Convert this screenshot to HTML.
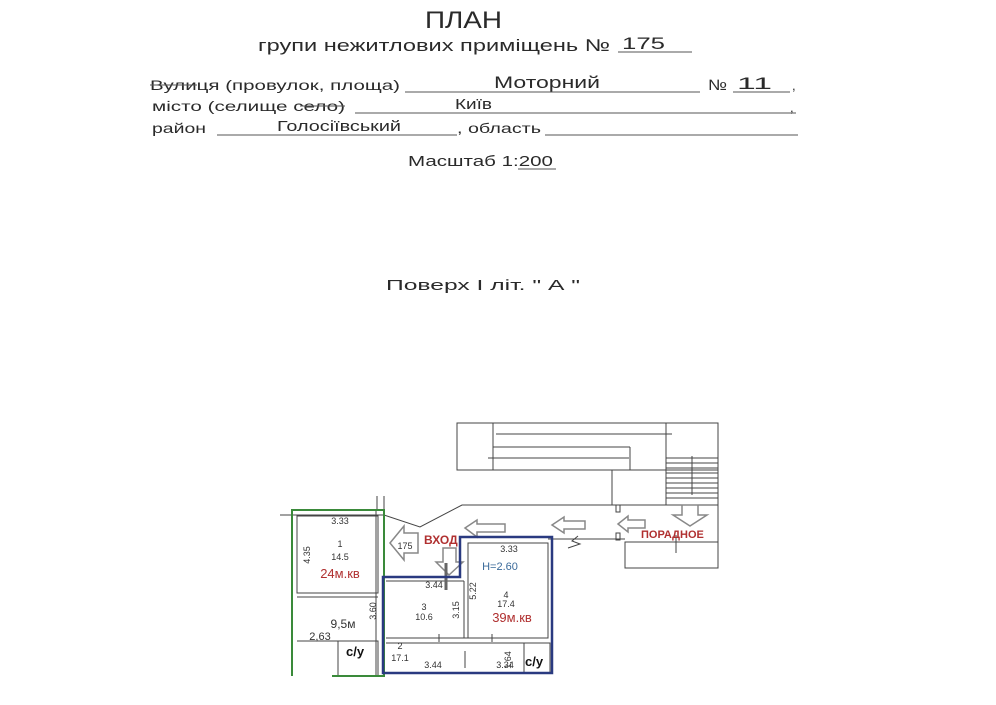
<!DOCTYPE html>
<html><head><meta charset="utf-8"><style>
html,body{margin:0;padding:0;background:#fff;}
body{width:996px;height:700px;overflow:hidden;}
svg text{font-family:"Liberation Sans",sans-serif;}
</style></head><body>
<svg width="996" height="700" viewBox="0 0 996 700" xmlns="http://www.w3.org/2000/svg">
<g fill="#2a2a2a">
<text x="425" y="28" font-size="24" textLength="77" lengthAdjust="spacingAndGlyphs">ПЛАН</text>
<text x="258" y="51" font-size="17" textLength="352" lengthAdjust="spacingAndGlyphs">групи нежитлових приміщень  №</text>
<text x="622" y="49" font-size="17" textLength="43" lengthAdjust="spacingAndGlyphs">175</text>
<text x="150" y="90" font-size="14" textLength="250" lengthAdjust="spacingAndGlyphs">Вулиця (провулок, площа)</text>
<text x="494" y="88" font-size="17" textLength="106" lengthAdjust="spacingAndGlyphs">Моторний</text>
<text x="708" y="90" font-size="15" textLength="19" lengthAdjust="spacingAndGlyphs">№</text>
<text x="737" y="89" font-size="17" textLength="35" lengthAdjust="spacingAndGlyphs">11</text>
<text x="792" y="90" font-size="13">,</text>
<text x="152" y="111" font-size="14" textLength="193" lengthAdjust="spacingAndGlyphs">місто (селище село)</text>
<text x="455" y="109" font-size="15" textLength="37" lengthAdjust="spacingAndGlyphs">Київ</text>
<text x="790" y="112" font-size="13">,</text>
<text x="152" y="133" font-size="14" textLength="54" lengthAdjust="spacingAndGlyphs">район</text>
<text x="277" y="131" font-size="15" textLength="124" lengthAdjust="spacingAndGlyphs">Голосіївський</text>
<text x="457" y="133" font-size="14" textLength="84" lengthAdjust="spacingAndGlyphs">, область</text>
<text x="408" y="166" font-size="15" textLength="145" lengthAdjust="spacingAndGlyphs">Масштаб 1:200</text>
<text x="386" y="290" font-size="15" textLength="194" lengthAdjust="spacingAndGlyphs">Поверх  І  літ. " А "</text>
</g>
<g stroke="#555" stroke-width="1">
<line x1="618" y1="52" x2="692" y2="52"/>
<line x1="150" y1="85" x2="197" y2="85"/>
<line x1="300" y1="106" x2="345" y2="106"/>
<line x1="405" y1="92" x2="700" y2="92"/>
<line x1="733" y1="92" x2="790" y2="92"/>
<line x1="355" y1="113" x2="796" y2="113"/>
<line x1="217" y1="135" x2="457" y2="135"/>
<line x1="545" y1="135" x2="798" y2="135"/>
<line x1="518" y1="169" x2="556" y2="169"/>
</g>
<g stroke="#444" stroke-width="1" fill="none">
<rect x="457" y="423" width="261" height="47"/>
<line x1="493" y1="423" x2="493" y2="470"/>
<line x1="666" y1="423" x2="666" y2="505"/>
<line x1="718" y1="470" x2="718" y2="505"/>
<line x1="493" y1="447" x2="630" y2="447"/>
<line x1="630" y1="447" x2="630" y2="470"/>
<line x1="496" y1="434" x2="672" y2="434"/>
<line x1="488" y1="458" x2="629" y2="458"/>
<line x1="612" y1="470" x2="612" y2="505"/>
<line x1="666" y1="458" x2="718" y2="458"/>
<line x1="666" y1="463" x2="718" y2="463"/>
<line x1="666" y1="468" x2="718" y2="468"/>
<line x1="666" y1="473" x2="718" y2="473"/>
<line x1="666" y1="478" x2="718" y2="478"/>
<line x1="666" y1="483" x2="718" y2="483"/>
<line x1="666" y1="488" x2="718" y2="488"/>
<line x1="666" y1="493" x2="718" y2="493"/>
<line x1="666" y1="498" x2="718" y2="498"/>
<line x1="692" y1="456" x2="692" y2="495"/>
<polyline points="280,515 384,515 420,527 462,505 718,505"/>
<line x1="548" y1="539" x2="625" y2="539"/>
<rect x="625" y="542" width="93" height="26"/>
<line x1="676" y1="535" x2="676" y2="553"/>
<line x1="718" y1="505" x2="718" y2="542"/>
<polyline points="568,548 580,544 572,541 578,536"/>
<rect x="616" y="505" width="4" height="7"/>
<rect x="616" y="533" width="4" height="7"/>
<rect x="297" y="516" width="81" height="77"/>
<line x1="297" y1="597" x2="378" y2="597"/>
<line x1="297" y1="641" x2="378" y2="641"/>
<rect x="338" y="641" width="40" height="35"/>
<line x1="376" y1="510" x2="376" y2="676"/>
<line x1="384" y1="496" x2="384" y2="510"/>
<line x1="377" y1="496" x2="377" y2="510"/>
<rect x="468" y="543" width="80" height="95"/>
<line x1="386" y1="581" x2="464" y2="581"/>
<line x1="464" y1="581" x2="464" y2="638"/>
<line x1="386" y1="638" x2="548" y2="638"/>
<line x1="386" y1="643" x2="540" y2="643"/>
<rect x="524" y="643" width="26" height="30"/>
<line x1="439" y1="634" x2="439" y2="642"/>
<line x1="492" y1="634" x2="492" y2="642"/>
<line x1="465" y1="651" x2="465" y2="668"/>
</g>
<g stroke="#888" stroke-width="1.5" fill="#fff">
<polygon points="390,543 404,526 404,533 418,533 418,553 404,553 404,560"/>
<polygon points="449,575 436,562 443,562 443,548 456,548 456,562 463,562"/>
<polygon points="465,528 477,520 477,524 505,524 505,532 477,532 477,537"/>
<polygon points="552,525 564,517 564,521 585,521 585,529 564,529 564,533"/>
<polygon points="618,524 628,516 628,520 645,520 645,528 628,528 628,532"/>
<polygon points="690,526 673,515 682,515 682,505 698,505 698,515 707,515"/>
</g>
<line x1="446" y1="563" x2="446" y2="590" stroke="#666" stroke-width="3"/>
<polyline points="292,676 292,510 384,510 384,676 332,676" fill="none" stroke="#3a8a3a" stroke-width="2"/>
<polygon points="460,537 552,537 552,673 383,673 383,577 460,577" fill="none" stroke="#2a3a80" stroke-width="2.5"/>
<g font-size="9" fill="#333" text-anchor="middle">
<text x="340" y="524">3.33</text>
<text x="340" y="547">1</text>
<text x="340" y="560">14.5</text>
<text x="310" y="555" transform="rotate(-90 310 555)">4.35</text>
<text x="376" y="611" transform="rotate(-90 376 611)">3.60</text>
<text x="320" y="640" font-size="11">2,63</text>
<text x="343" y="628" font-size="12">9,5м</text>
<text x="405" y="549" font-size="9">175</text>
<text x="509" y="552">3.33</text>
<text x="434" y="588">3.44</text>
<text x="424" y="610">3</text>
<text x="424" y="620">10.6</text>
<text x="459" y="610" transform="rotate(-90 459 610)">3.15</text>
<text x="476" y="591" transform="rotate(-90 476 591)">5.22</text>
<text x="506" y="598">4</text>
<text x="506" y="607">17.4</text>
<text x="400" y="649">2</text>
<text x="400" y="661">17.1</text>
<text x="433" y="668">3.44</text>
<text x="511" y="660" transform="rotate(-90 511 660)">1.64</text>
<text x="505" y="668">3.34</text>
</g>
<text x="500" y="570" font-size="11" fill="#3a6a9a" text-anchor="middle">H=2.60</text>
<text x="340" y="578" font-size="13" fill="#b03030" text-anchor="middle">24м.кв</text>
<text x="512" y="622" font-size="13" fill="#b03030" text-anchor="middle">39м.кв</text>
<text x="424" y="544" font-size="12" font-weight="bold" fill="#b03030">ВХОД</text>
<text x="641" y="538" font-size="11" font-weight="bold" fill="#b03030">ПОРАДНОЕ</text>
<text x="346" y="656" font-size="13" font-weight="bold" fill="#111">с/у</text>
<text x="525" y="666" font-size="13" font-weight="bold" fill="#111">с/у</text>
</svg>
</body></html>
